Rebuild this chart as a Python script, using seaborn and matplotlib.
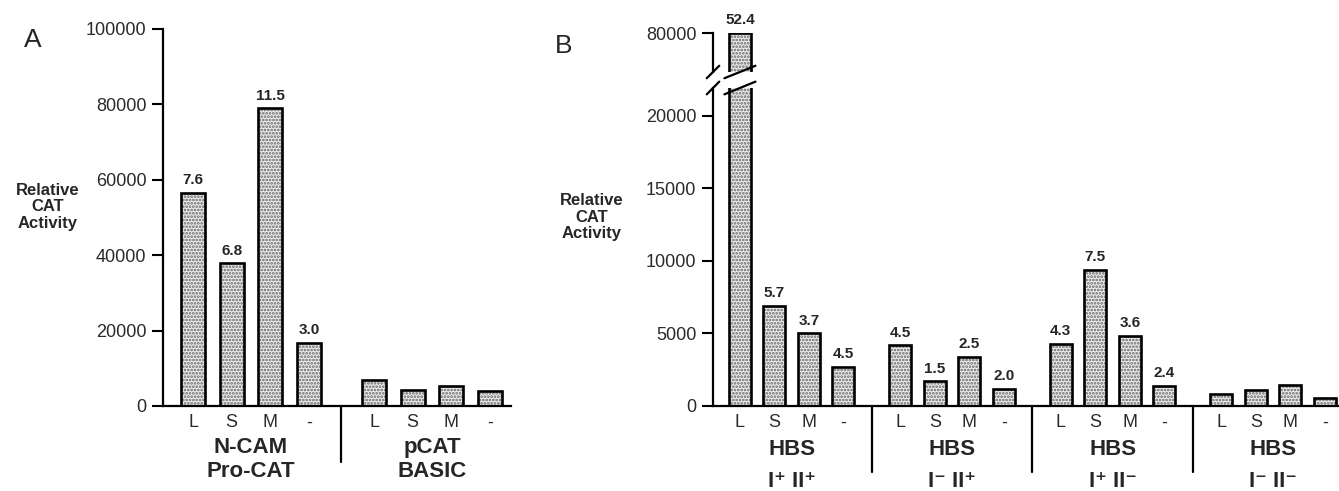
import matplotlib
matplotlib.use("Agg")
import numpy as np
import pandas as pd
import seaborn as sns
import matplotlib.transforms as mtransforms
from matplotlib import pyplot as plt

# ---- data ----
slots = ['L', 'S', 'M', '-']

a_groups = [('N-CAM', 'Pro-CAT'), ('pCAT', 'BASIC')]
a_ncam = [56500, 37900, 79000, 16700]
a_pcat = [6900, 4200, 5300, 4000]
a_ncam_fold = ['7.6', '6.8', '11.5', '3.0']
a_pcat_fold = ['', '', '', '']

b_groups = [('HBS', 'I⁺ II⁺'), ('HBS', 'I⁻ II⁺'), ('HBS', 'I⁺ II⁻'), ('HBS', 'I⁻ II⁻')]
b_pp = [80000, 6900, 5030, 2700]
b_mp = [4200, 1720, 3380, 1170]
b_pm = [4280, 9380, 4830, 1380]
b_mm = [830, 1100, 1450, 550]
b_pp_fold = ['52.4', '5.7', '3.7', '4.5']
b_mp_fold = ['4.5', '1.5', '2.5', '2.0']
b_pm_fold = ['4.3', '7.5', '3.6', '2.4']
b_mm_fold = ['', '', '', '']


def make_df(values, folds, stride):
    rows = []
    for g, (vals, fl) in enumerate(zip(values, folds)):
        for s, (v, f) in enumerate(zip(vals, fl)):
            rows.append(dict(group=g, slot=slots[s], pos=g * stride + s, value=v, fold=f))
    return pd.DataFrame(rows)


STRIDE_A = 4.69
STRIDE_B = 4.65
df_a = make_df([a_ncam, a_pcat], [a_ncam_fold, a_pcat_fold], STRIDE_A)
df_b = make_df([b_pp, b_mp, b_pm, b_mm],
               [b_pp_fold, b_mp_fold, b_pm_fold, b_mm_fold], STRIDE_B)

sns.set_style('white')
plt.rcParams['font.family'] = ['Liberation Sans', 'DejaVu Sans']
plt.rcParams['hatch.linewidth'] = 1.3

W, H = 1339, 491
fig = plt.figure(figsize=(W / 100, H / 100), dpi=100)
axA = fig.add_axes([163 / W, 1 - 406 / H, (511 - 163) / W, (406 - 29) / H])
axB = fig.add_axes([713 / W, 1 - 406 / H, (1339 - 713) / W, (406 - 88) / H])
axB2 = fig.add_axes([713 / W, 1 - 72 / H, (1339 - 713) / W, (72 - 33) / H])


def draw_bars(ax, df, width):
    n0 = len(ax.patches)
    sns.barplot(data=df, x='pos', y='value', native_scale=True, orient='x',
                width=width, color='#ececec', errorbar=None, ax=ax)
    for p in ax.patches[n0:]:
        p.set_hatch('.....')
        p.set_edgecolor('#666666')
        p.set_linewidth(0)
    sns.barplot(data=df, x='pos', y='value', native_scale=True, orient='x',
                width=width, fill=False, color='black', linewidth=1.9,
                errorbar=None, ax=ax)


def style_axis(ax, ylim, yticks):
    ax.set_ylim(*ylim)
    ax.set_yticks(yticks)
    ax.set_yticklabels([str(t) for t in yticks])
    ax.set_xlabel('')
    ax.set_ylabel('')
    for side in ['top', 'right']:
        ax.spines[side].set_visible(False)
    for side in ['left', 'bottom']:
        ax.spines[side].set_linewidth(1.6)
        ax.spines[side].set_color('black')
    ax.tick_params(axis='y', direction='out', length=8, width=1.5, color='black',
                   labelsize=13, labelcolor='#2a2a2a', pad=4, left=True)


def label_bars(ax, df):
    lo, hi = ax.get_ylim()
    for _, r in df.iterrows():
        if r['fold'] and lo < r['value'] <= hi:
            ax.annotate(r['fold'], (r['pos'], r['value']), xytext=(0, 4),
                        textcoords='offset points', ha='center', va='bottom',
                        fontsize=11, fontweight='bold')


def group_axis(ax, df, labels, stride, y1, y2, sep_end):
    ax.set_xticks(df['pos'])
    ax.set_xticklabels(df['slot'])
    ax.tick_params(axis='x', length=0, labelsize=13, labelcolor='#2a2a2a', pad=6)
    trans = mtransforms.blended_transform_factory(ax.transData, ax.transAxes)
    for g, (l1, l2) in enumerate(labels):
        c = g * stride + 1.5
        ax.text(c, y1, l1, transform=trans, ha='center', va='center',
                fontsize=16, fontweight='bold')
        ax.text(c, y2, l2, transform=trans, ha='center', va='center',
                fontsize=16, fontweight='bold')
        if g > 0:
            xs = g * stride - (stride - 3) / 2
            ax.plot([xs, xs], [0, sep_end], transform=trans, color='black',
                    lw=1.6, clip_on=False)


# panel A
draw_bars(axA, df_a, 0.62)
style_axis(axA, (0, 100000), [0, 20000, 40000, 60000, 80000, 100000])
axA.set_xlim(-0.78, 8.24)
label_bars(axA, df_a)
group_axis(axA, df_a, a_groups, STRIDE_A, -0.111, -0.175, -0.149)

# panel B, lower part
draw_bars(axB, df_b, 0.64)
style_axis(axB, (0, 21930), [0, 5000, 10000, 15000, 20000])
axB.set_xlim(-0.78, 17.36)
label_bars(axB, df_b)
group_axis(axB, df_b, b_groups, STRIDE_B, -0.138, -0.238, -0.208)

# panel B, upper part above the break
draw_bars(axB2, df_b, 0.64)
style_axis(axB2, (73000, 80000), [80000])
axB2.set_xlim(-0.78, 17.36)
axB2.spines['bottom'].set_visible(False)
axB2.set_xticks([])
label_bars(axB2, df_b)

# break marks
for ax, yc, dy in [(axB, 1.0, 0.02), (axB2, 0.0, 0.16)]:
    ax.plot([-0.01, 0.01], [yc - dy, yc + dy], transform=ax.transAxes,
            color='black', lw=1.6, clip_on=False)
    trans = mtransforms.blended_transform_factory(ax.transData, ax.transAxes)
    ax.plot([-0.45, 0.45], [yc - dy, yc + dy], transform=trans,
            color='black', lw=1.6, clip_on=False)

# axis titles and panel letters
for x, y in [(48, 207), (592, 217)]:
    fig.text(x / W, 1 - y / H, 'Relative\nCAT\nActivity', ha='center', va='center',
             fontsize=12, fontweight='bold', linespacing=1.15)
fig.text(33 / W, 1 - 40 / H, 'A', ha='center', va='center', fontsize=19)
fig.text(564 / W, 1 - 46 / H, 'B', ha='center', va='center', fontsize=19)

fig.savefig('out.png', dpi=100, facecolor='white')
